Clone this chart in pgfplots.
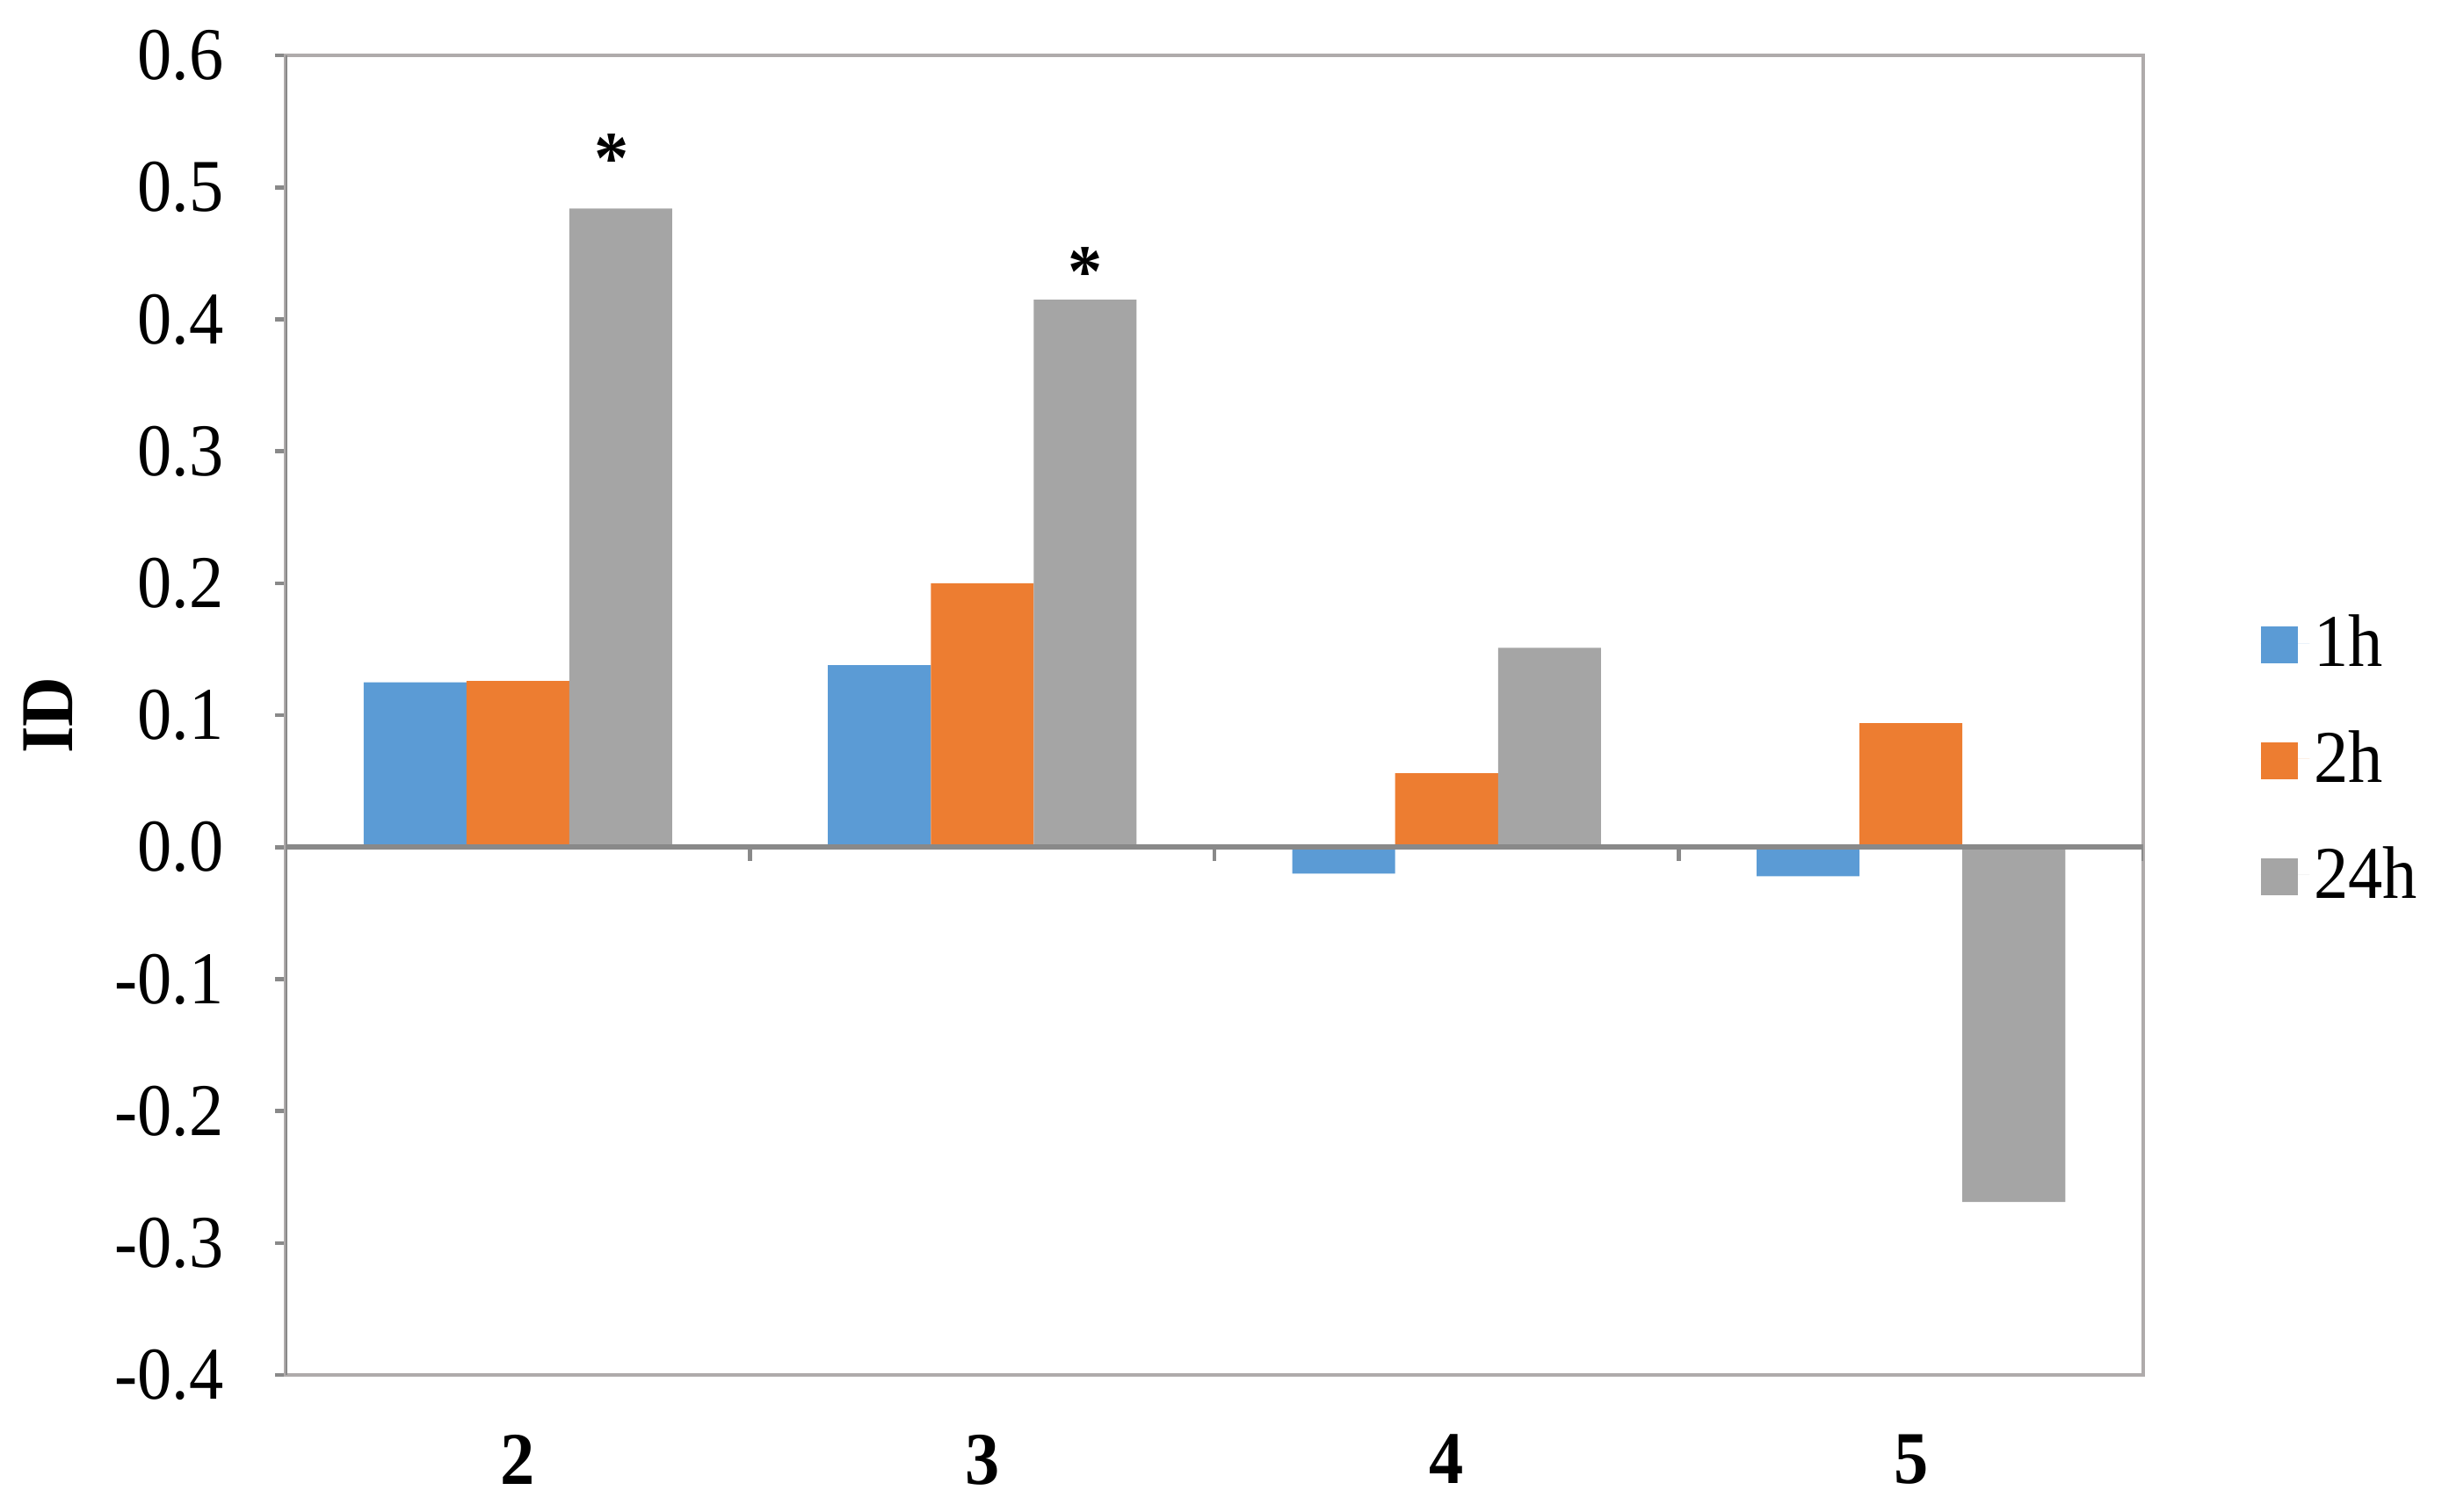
\documentclass[border=0pt]{standalone}
\usepackage{fontspec}
\setmainfont{Liberation Serif}[FakeStretch=0.925]
\usepackage{pgfplots}
\usepackage{pgfplotstable}
\pgfplotsset{compat=1.18}
\definecolor{c1}{HTML}{5B9BD5}
\definecolor{c2}{HTML}{ED7D31}
\definecolor{c3}{HTML}{A5A5A5}
\definecolor{framec}{HTML}{AFABAB}
\definecolor{axisdark}{HTML}{898989}
\newcommand{\bigf}{\fontsize{24.4}{29}\selectfont}

\pgfplotstableread{
x y1 y2 y3
0 0.125 0.126 0.484
1 0.138 0.200 0.415
2 -0.020 0.056 0.151
3 -0.022 0.094 -0.269
}\datatab

\begin{document}
\begin{tikzpicture}
\begin{axis}[
  at={(0,0)}, anchor=south west,
  width=608.5pt, height=432.3pt, scale only axis,
  xmin=-0.5, xmax=3.5, ymin=-0.4, ymax=0.6,
  ytick={-0.4,-0.3,-0.2,-0.1,0,0.1,0.2,0.3,0.4,0.5,0.6},
  xtick={0,1,2,3}, xticklabels={2,3,4,5},
  x tick style={draw=none},
  y tick style={axisdark, line width=1.3pt},
  ytick pos=left,
  tick align=outside,
  major tick length=3.5pt,
  axis line style={framec, line width=1.3pt},
  yticklabel style={font=\bigf, inner sep=0pt, xshift=-16.6pt,
    /pgf/number format/fixed, /pgf/number format/fixed zerofill,
    /pgf/number format/precision=1},
  /pgf/number format/assume math mode=true,
  xticklabel style={font=\bigf\bfseries, inner sep=0pt, yshift=-15.9pt},
  ylabel={ID},
  ylabel style={font=\bigf\bfseries, at={(axis description cs:-0.1279,0.5)}, anchor=center},
  legend style={at={(axis description cs:1,0.4668)}, anchor=west, xshift=35.3pt,
    draw=none, fill=none, font=\bigf, row sep=16.5pt,
    nodes={inner sep=1.5pt}},
  legend cell align=left,
  legend image code/.code={\fill[#1] (0pt,-6.65pt) rectangle (12.1pt,5.45pt); \path (0pt,0pt) -- (16pt,0pt);},
]
\addplot[ybar, bar width=0.2215, bar shift=-0.2215, fill=c1, draw=none] table[x=x, y=y1] {\datatab};
\addplot[ybar, bar width=0.2215, bar shift=0, fill=c2, draw=none] table[x=x, y=y2] {\datatab};
\addplot[ybar, bar width=0.2215, bar shift=0.2215, fill=c3, draw=none] table[x=x, y=y3] {\datatab};
\legend{1h,2h,24h}
\draw[axisdark, line width=1.3pt] (rel axis cs:0,0) -- (rel axis cs:0,1);
\draw[axisdark, line width=1.6pt] ([xshift=-3.5pt]axis cs:-0.5,0) -- (axis cs:3.5,0);
\pgfplotsinvokeforeach{0.5,1.5,2.5,3.5}{
  \draw[axisdark, line width=1.3pt] (axis cs:#1,0) -- ([yshift=-4.5pt]axis cs:#1,0);
}
\node[font=\bigf\bfseries, anchor=base, xshift=-2.9pt, yshift=8.4pt] at (axis cs:0.2215,0.484) {*};
\node[font=\bigf\bfseries, anchor=base, yshift=1.1pt] at (axis cs:1.2215,0.415) {*};
\end{axis}
\pgfresetboundingbox
\path[use as bounding box] (-93.6pt,-44.9pt) rectangle (706.4pt,450.5pt);
\end{tikzpicture}
\end{document}
